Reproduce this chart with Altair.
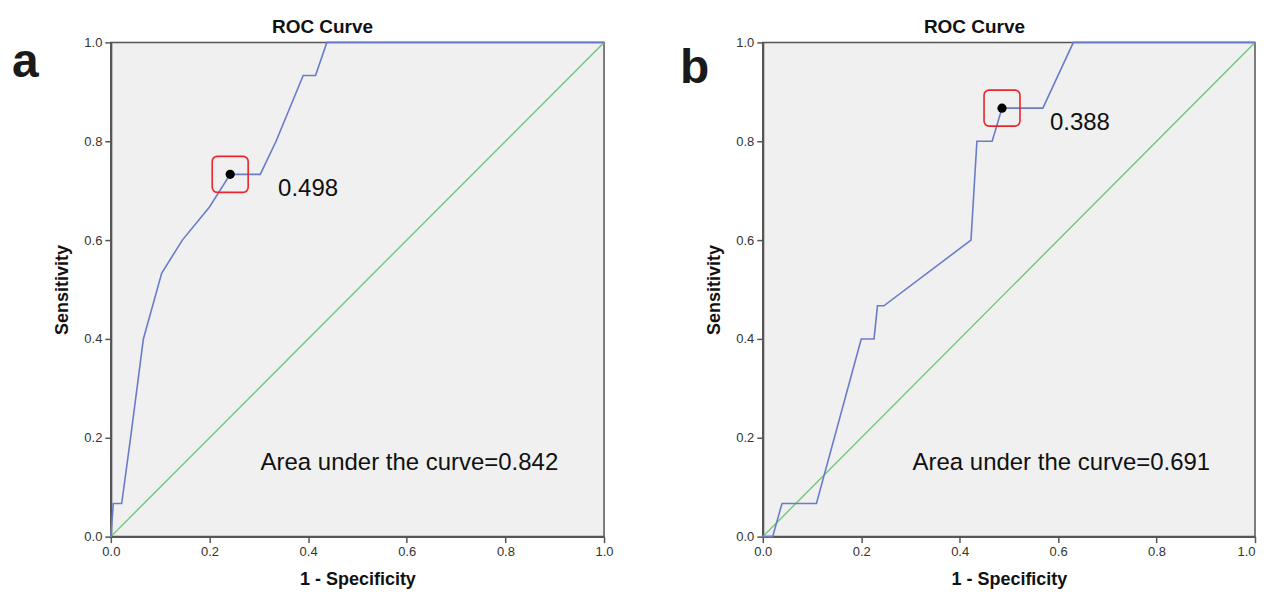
import altair as alt
import pandas as pd

# ---- data ----
fpr_a = [0.0, 0.005, 0.022, 0.04, 0.066, 0.103, 0.145, 0.2, 0.242, 0.303, 0.335, 0.39, 0.415, 0.438, 1.0]
tpr_a = [0.0, 0.067, 0.067, 0.2, 0.4, 0.533, 0.6, 0.667, 0.733, 0.733, 0.8, 0.933, 0.933, 1.0, 1.0]
fpr_b = [0.0, 0.02, 0.039, 0.109, 0.2, 0.226, 0.233, 0.246, 0.423, 0.435, 0.466, 0.486, 0.569, 0.631, 1.0]
tpr_b = [0.0, 0.0, 0.067, 0.067, 0.4, 0.4, 0.467, 0.467, 0.6, 0.8, 0.8, 0.867, 0.867, 1.0, 1.0]
ref_x = [0.0, 1.0]
ref_y = [0.0, 1.0]
cut_a = [0.242, 0.733, "0.498"]
cut_b = [0.486, 0.867, "0.388"]
auc_a = "Area under the curve=0.842"
auc_b = "Area under the curve=0.691"
panel_letters = ["a", "b"]
chart_title = "ROC Curve"
x_title = "1 - Specificity"
y_title = "Sensitivity"
tick_values = [0.0, 0.2, 0.4, 0.6, 0.8, 1.0]

FONT = "Liberation Sans"
BLUE = "#6a7cc8"
GREEN = "#6cc878"
RED = "#e8262b"


def panel(fpr, tpr, cut, auc, letter, letter_x, letter_y, width, last_right):
    df = pd.DataFrame({"fpr": fpr, "tpr": tpr, "i": list(range(len(fpr)))})
    sc = alt.Scale(domain=[0, 1], nice=False, zero=False)
    xaxis_kw = dict(values=tick_values, format=".1f", title=x_title, labelFlush=False)
    if last_right:
        xaxis_kw["labelAlign"] = {"condition": {"test": "datum.value >= 1", "value": "right"},
                                  "value": "center"}
    xenc = alt.X("fpr:Q", scale=sc, axis=alt.Axis(**xaxis_kw))
    yenc = alt.Y("tpr:Q", scale=sc,
                 axis=alt.Axis(values=tick_values, format=".1f", title=y_title,
                               labelFlush=False))

    diag = alt.Chart(pd.DataFrame({"fpr": ref_x, "tpr": ref_y})).mark_line(
        color=GREEN, strokeWidth=1.4).encode(x=xenc, y=yenc)
    roc = alt.Chart(df).mark_line(color=BLUE, strokeWidth=1.6).encode(
        x="fpr:Q", y="tpr:Q", order="i:Q")

    cdf = pd.DataFrame({"fpr": [cut[0]], "tpr": [cut[1]], "lab": [cut[2]]})
    box = alt.Chart(cdf).mark_rect(
        filled=False, stroke=RED, strokeWidth=1.6, cornerRadius=5,
        xOffset=-18, x2Offset=18, yOffset=-18, y2Offset=18
    ).encode(x="fpr:Q", x2="fpr", y="tpr:Q", y2="tpr")
    dot = alt.Chart(cdf).mark_circle(size=85, color="black", opacity=1).encode(
        x="fpr:Q", y="tpr:Q")
    lab = alt.Chart(cdf).mark_text(
        align="left", baseline="alphabetic", dx=48, dy=22, fontSize=24,
        font=FONT, color="#111").encode(x="fpr:Q", y="tpr:Q", text="lab:N")

    auc_t = alt.Chart(pd.DataFrame({"t": [auc]})).mark_text(
        align="left", baseline="alphabetic", fontSize=24, font=FONT, color="#111"
    ).encode(x=alt.value(150), y=alt.value(428), text="t:N")
    title_t = alt.Chart(pd.DataFrame({"t": [chart_title]})).mark_text(
        align="center", baseline="alphabetic", fontSize=19, fontWeight="bold",
        font=FONT, color="#111"
    ).encode(x=alt.value(212), y=alt.value(-9), text="t:N")
    letter_t = alt.Chart(pd.DataFrame({"t": [letter]})).mark_text(
        align="left", baseline="alphabetic", fontSize=48, fontWeight="bold",
        font=FONT, color="#1a1a1a"
    ).encode(x=alt.value(letter_x), y=alt.value(letter_y), text="t:N")

    return alt.layer(diag, roc, box, dot, lab, auc_t, title_t, letter_t).properties(
        width=width, height=495)


pa = panel(fpr_a, tpr_a, cut_a, auc_a, panel_letters[0], -99, 35, 494, False)
pb = panel(fpr_b, tpr_b, cut_b, auc_b, panel_letters[1], -83, 41, 493, True)

chart = alt.hconcat(pa, pb, spacing=65).properties(
    padding={"left": 3, "top": 9, "right": 0, "bottom": 0}
).configure_view(
    fill="#f0f0f0", stroke="#555555", strokeWidth=1.5
).configure_axis(
    grid=False, domainColor="#555555", domainWidth=2, tickColor="#555555",
    tickSize=6, tickWidth=1.5, labelFontSize=13, labelColor="#333333",
    labelFont=FONT, titleFont=FONT, titleFontSize=18, titleFontWeight="bold",
    titleColor="#111111", labelPadding=3
).configure_axisX(titlePadding=12).configure_axisY(titlePadding=12)

chart.save("out.html", embed_options={"renderer": "svg", "actions": False})
